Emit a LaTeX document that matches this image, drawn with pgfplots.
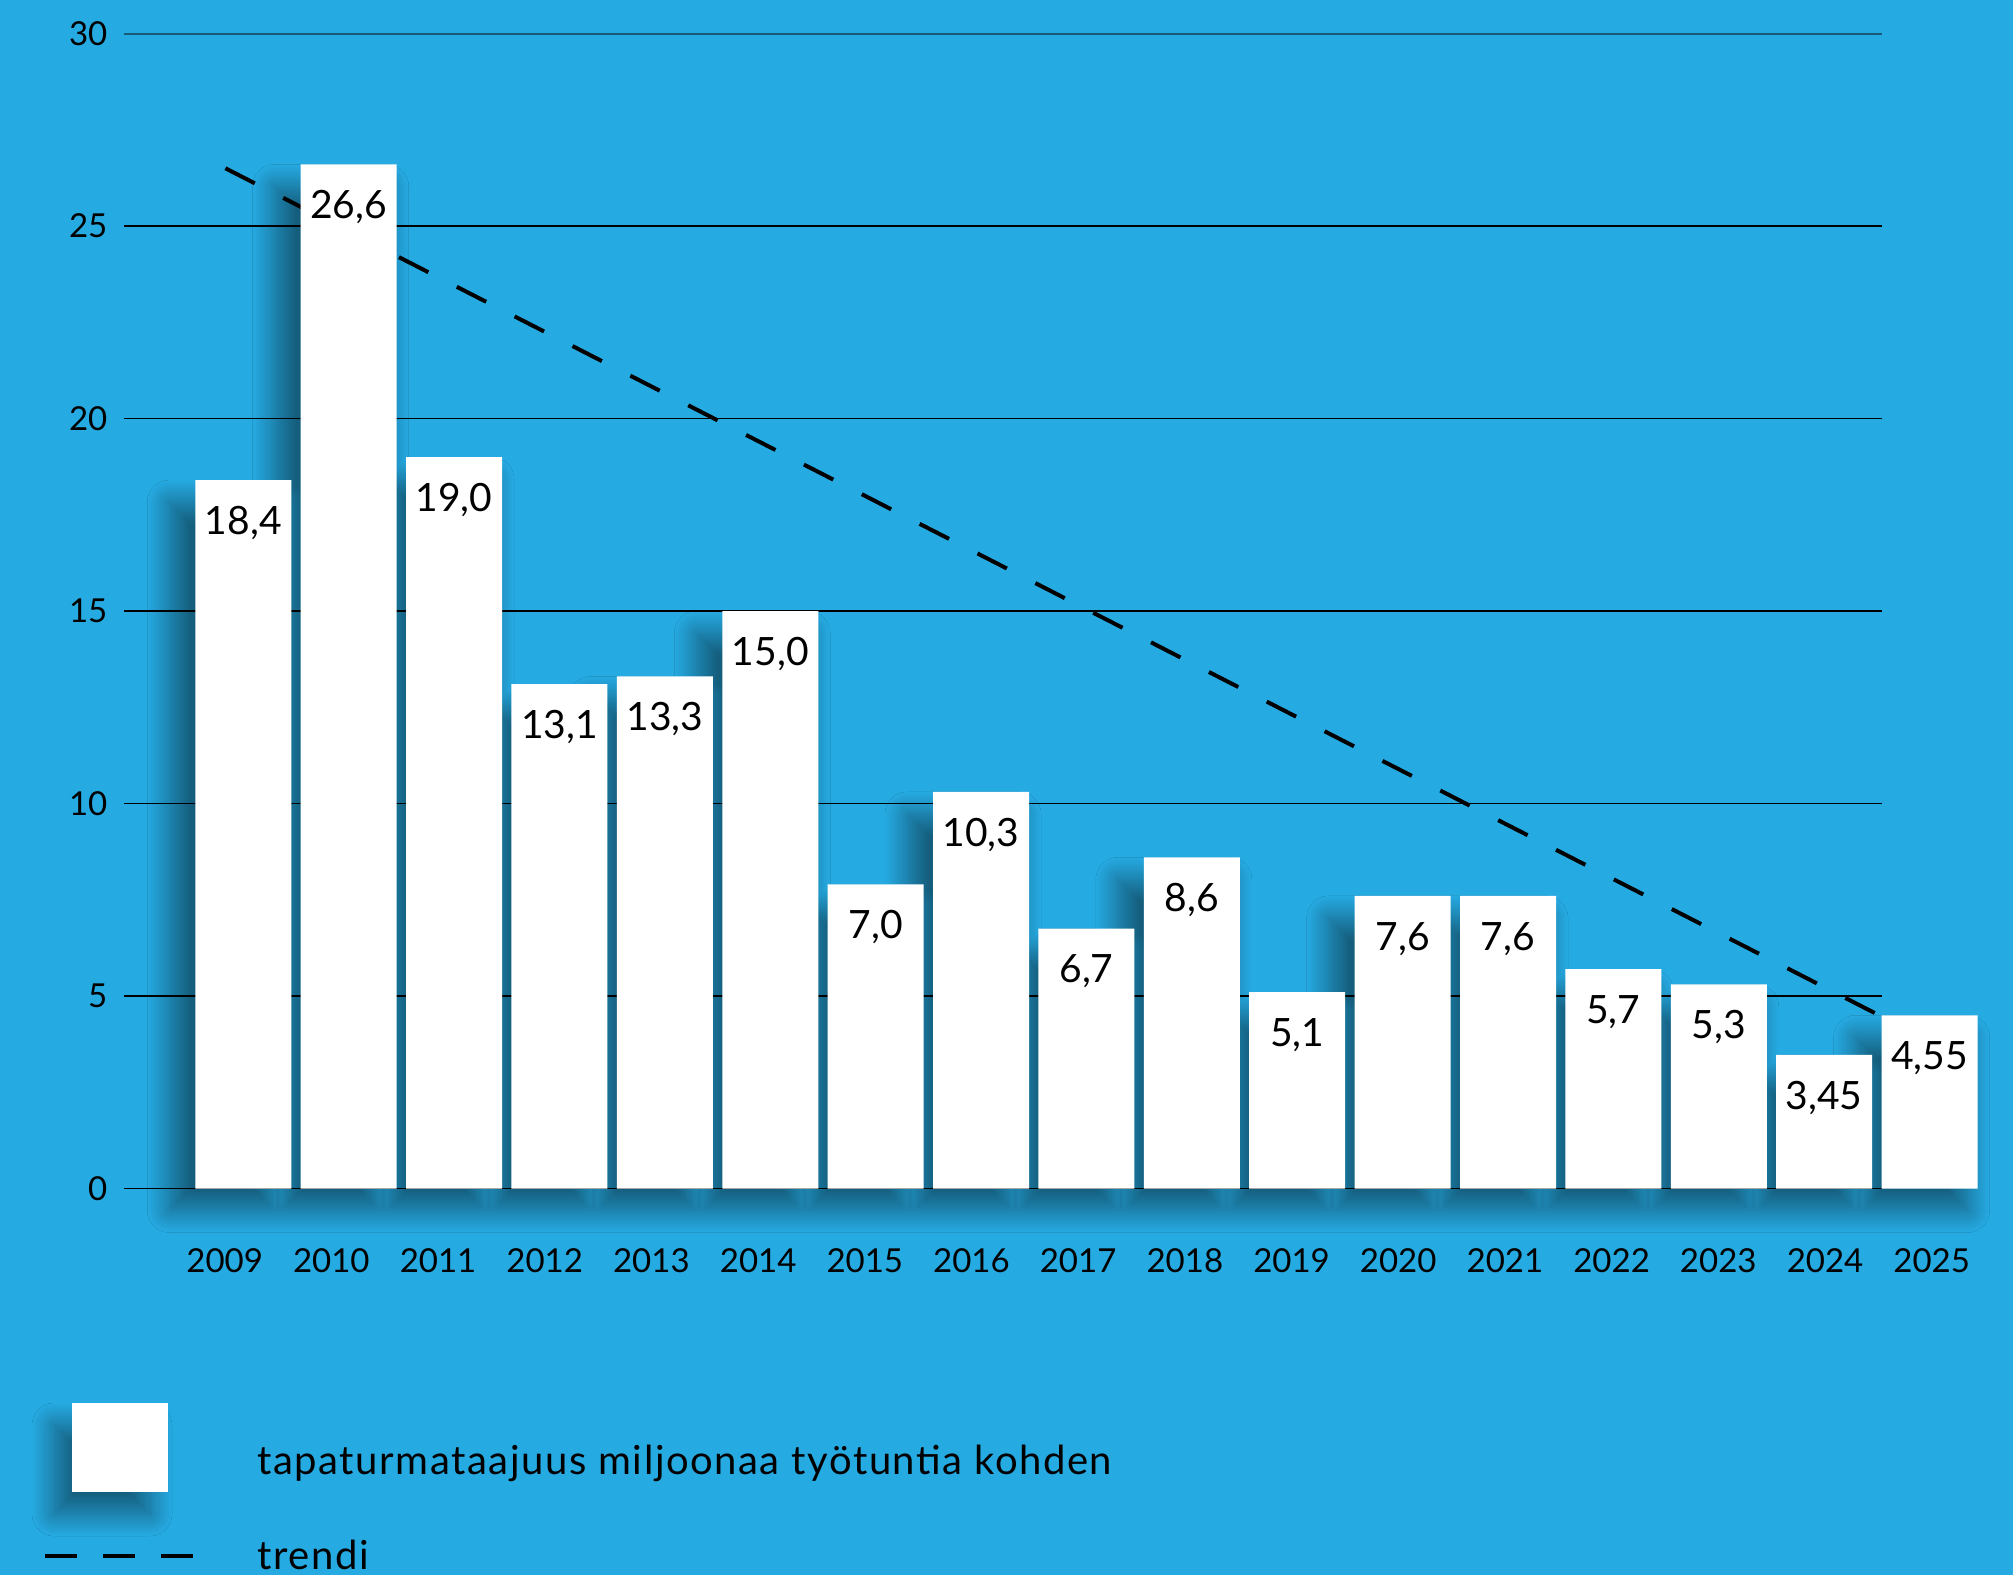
\documentclass[border=0pt]{standalone}
\usepackage{fontspec}
\setmainfont{Lato}
\usepackage{pgfplots}
\pgfplotsset{compat=1.18}
\usepackage{pgfplotstable}
\usetikzlibrary{shadows.blur}
\definecolor{bg}{RGB}{38,170,226}
\definecolor{topline}{RGB}{25,90,120}

\pgfplotstableread{
x y label
0 18.4 18,4
1 26.6 26,6
2 19.0 19,0
3 13.1 13,1
4 13.3 13,3
5 15.0 15,0
6 7.9 7,0
7 10.3 10,3
8 6.75 6,7
9 8.6 8,6
10 5.1 5,1
11 7.6 7,6
12 7.6 7,6
13 5.7 5,7
14 5.3 5,3
15 3.47 3,45
16 4.5 4,55
}\bardata

\tikzset{myshadow/.style={blur shadow={shadow xshift=-9pt, shadow yshift=-11pt, shadow blur radius=11pt, shadow blur steps=24, shadow opacity=45}}}

\begin{document}
\begin{tikzpicture}
\fill[bg] (0,0) rectangle (1006.5pt,-787.5pt);
\begin{axis}[
  at={(62pt,-594.25pt)}, anchor=south west,
  scale only axis, width=934.4pt, height=577.5pt,
  xmin=-1.132, xmax=16.6, ymin=0, ymax=30,
  clip=false,
  axis line style={draw=none},
  major tick length=0pt,
  ytick={0,5,...,30},
  xtick={-0.177,0.835,1.848,2.860,3.872,4.885,5.897,6.909,7.921,8.934,9.946,10.958,11.971,12.983,13.995,15.008,16.020},
  xticklabels={2009,2010,2011,2012,2013,2014,2015,2016,2017,2018,2019,2020,2021,2022,2023,2024,2025},
  /pgf/number format/assume math mode=true,
  tick label style={font=\fontsize{16.5}{19}\selectfont, text=black},
  xticklabel style={anchor=center, yshift=-36pt},
  yticklabel style={anchor=east, xshift=-4.8pt},
]
\pgfplotsinvokeforeach{0,5,...,25}{\draw[black, line width=0.7pt] (axis cs:-1.132,#1) -- (axis cs:15.55,#1);}
\draw[topline, line width=1pt] (axis cs:-1.132,30) -- (axis cs:15.55,30);
\addplot[black, line width=2pt, dash pattern=on 16.5pt off 16pt] coordinates {(-0.17,26.5) (15.5,4.53)};
% shadow: union of slightly widened bars, blurred
\addplot[ybar, bar shift=0pt, bar width=56pt, fill=none, draw=none, myshadow]
  table[x=x,y=y]{\bardata};
\addplot[ybar, bar shift=0pt, bar width=48pt, fill=white, draw=none,
  nodes near coords, point meta=explicit symbolic,
  every node near coord/.append style={anchor=center, yshift=-21.5pt, font=\fontsize{19.5}{22}\selectfont, text=black}]
  table[x=x,y=y,meta=label]{\bardata};
\end{axis}
\fill[white, myshadow] (36pt,-701.5pt) rectangle (84pt,-746pt);
\node[anchor=base west, inner sep=0pt, font=\fontsize{20}{23}\selectfont\addfontfeature{LetterSpace=3.9}] at (128.5pt,-737pt) {tapaturmataajuus miljoonaa työtuntia kohden};
\draw[line width=2pt, dash pattern=on 16pt off 13pt] (22.5pt,-778pt) -- (97.5pt,-778pt);
\node[anchor=base west, inner sep=0pt, font=\fontsize{20}{23}\selectfont\addfontfeature{LetterSpace=3.9}] at (128.5pt,-784.5pt) {trendi};
\pgfresetboundingbox
\useasboundingbox (0,0) rectangle (1006.5pt,-787.5pt);
\end{tikzpicture}
\end{document}
